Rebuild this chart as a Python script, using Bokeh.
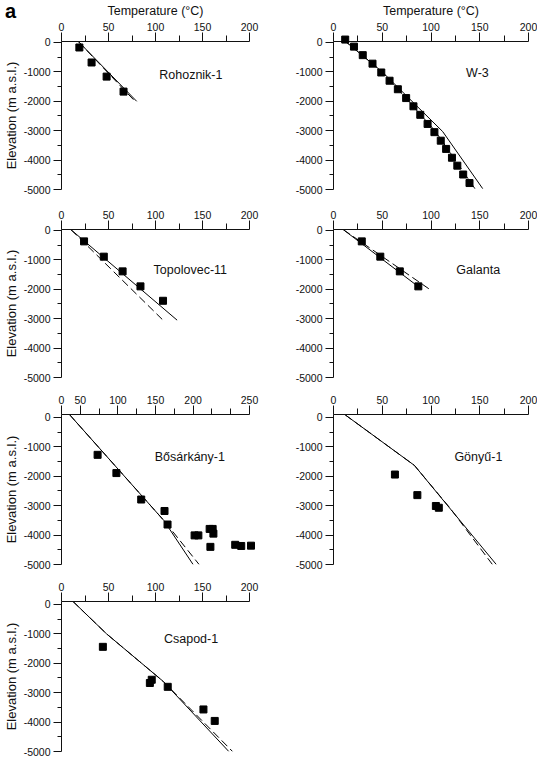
from bokeh.plotting import figure
from bokeh.models import Range1d, FixedTicker, Label, Div
from bokeh.layouts import column, row
from bokeh.embed import file_html
from bokeh.resources import INLINE

# ---------------- data ----------------
rohoz_T = [19, 32, 48, 66]
rohoz_E = [-170, -680, -1160, -1670]
rohoz_solid_T = [18, 80]
rohoz_solid_E = [30, -2000]
rohoz_dash_T = [18, 78.5]
rohoz_dash_E = [30, -2010]

w3_T = [12, 21, 30, 40, 49, 57.5, 66, 74.5, 82, 89, 96.5, 103.5, 110, 115.5, 121.5, 127, 133, 139.5]
w3_E = [100, -140, -430, -720, -1020, -1300, -1590, -1890, -2170, -2460, -2770, -3050, -3340, -3620,
        -3920, -4190, -4490, -4780]
w3_solid_T = [10, 50, 112, 153]
w3_solid_E = [100, -1000, -3030, -4970]
w3_dash_T = [10, 50, 104, 125, 145]
w3_dash_E = [100, -1000, -3000, -4000, -4970]

topo_T = [24, 45, 65, 84, 108]
topo_E = [-370, -890, -1390, -1900, -2390]
topo_solid_T = [10, 123]
topo_solid_E = [30, -3050]
topo_dash_T = [10, 108]
topo_dash_E = [30, -3050]

gal_T = [29, 48, 68, 87]
gal_E = [-370, -890, -1390, -1900]
gal_solid_T = [10, 89]
gal_solid_E = [30, -1960]
gal_dash_T = [10, 99]
gal_dash_E = [30, -2010]

bos_T = [48, 73, 106, 137, 141, 177, 182, 197, 201, 202, 198, 231, 239, 252]
bos_E = [-1270, -1890, -2790, -3180, -3640, -4010, -4010, -3790, -3790, -3950, -4400, -4330, -4370, -4360]
bos_solid_T = [10.6, 136, 175]
bos_solid_E = [100, -3500, -5000]
bos_dash_T = [10.6, 136, 183]
bos_dash_E = [100, -3500, -5000]

gon_T = [63, 86, 105, 108]
gon_E = [-1940, -2640, -3010, -3070]
gon_solid_T = [12, 83, 167]
gon_solid_E = [90, -1630, -5000]
gon_dash_T = [12, 83, 120, 163]
gon_dash_E = [90, -1630, -3100, -5000]

csa_T = [44, 94, 96, 113, 151, 163]
csa_E = [-1440, -2670, -2560, -2800, -3570, -3960]
csa_solid_T = [12, 48, 108, 178]
csa_solid_E = [110, -1000, -2610, -5000]
csa_dash_T = [12, 48, 108, 182]
csa_dash_E = [110, -1000, -2610, -5000]

x_ticks_200 = [0, 50, 100, 150, 200]
x_minor_200 = [25, 75, 125, 175]
# Bősárkány-1 top axis as printed: labels sit at uneven tick positions
bos_tick_pos = [0, 25, 75, 125, 175, 250]
bos_tick_lab = ["0", "50", "100", "150", "200", "250"]
bos_minor = [50, 100, 150, 200, 225]
y_ticks = [0, -1000, -2000, -3000, -4000, -5000]
y_minor = [-500, -1500, -2500, -3500, -4500]

FONT = "Liberation Sans"
TICK_SIZE = "10.5px"


def panel(width, height, mb_l, mb_r, mb_t, mb_b, xmax, ytop, xt, xm, name, lab_x, lab_y,
          pts, solid, dash, xtitle=False, ytitle=False, xlabels=None):
    p = figure(width=width, height=height, x_range=Range1d(0, xmax), y_range=Range1d(-5000, ytop),
               x_axis_location="above", output_backend="svg", toolbar_location=None,
               min_border_left=mb_l, min_border_right=mb_r, min_border_top=mb_t,
               min_border_bottom=mb_b)
    p.outline_line_color = None
    p.grid.visible = False
    p.background_fill_color = "white"
    p.border_fill_color = "white"

    xa = p.xaxis[0]
    xa.ticker = FixedTicker(ticks=xt, minor_ticks=xm)
    if xlabels is not None:
        xa.major_label_overrides = {t: s for t, s in zip(xt, xlabels)}
    xa.major_tick_out = 9
    xa.major_tick_in = 0
    xa.minor_tick_out = 6
    xa.minor_tick_in = 0
    xa.major_label_standoff = 2
    xa.major_label_text_font = FONT
    xa.major_label_text_font_size = TICK_SIZE
    xa.major_label_text_color = "#111111"
    xa.axis_line_color = "#111111"
    xa.major_tick_line_color = "#111111"
    xa.minor_tick_line_color = "#111111"
    if xtitle:
        xa.axis_label = "Temperature (°C)"
        xa.axis_label_text_font = FONT
        xa.axis_label_text_font_size = "12.5px"
        xa.axis_label_text_font_style = "normal"
        xa.axis_label_text_color = "#111111"
        xa.axis_label_standoff = 2

    ya = p.yaxis[0]
    ya.ticker = FixedTicker(ticks=y_ticks, minor_ticks=y_minor)
    ya.major_label_overrides = {t: str(t) for t in y_ticks}
    ya.major_tick_out = 8
    ya.major_tick_in = 0
    ya.minor_tick_out = 4
    ya.minor_tick_in = 0
    ya.major_label_standoff = 3
    ya.major_label_text_font = FONT
    ya.major_label_text_font_size = TICK_SIZE
    ya.major_label_text_color = "#111111"
    ya.axis_line_color = "#111111"
    ya.major_tick_line_color = "#111111"
    ya.minor_tick_line_color = "#111111"
    if ytitle:
        ya.axis_label = "Elevation (m a.s.l.)"
        ya.axis_label_text_font = FONT
        ya.axis_label_text_font_size = "13px"
        ya.axis_label_text_font_style = "normal"
        ya.axis_label_text_color = "#111111"
        ya.axis_label_standoff = 2

    p.line(solid[0], solid[1], line_color="black", line_width=1)
    p.line(dash[0], dash[1], line_color="black", line_width=1, line_dash="8 4")
    r = p.scatter(pts[0], pts[1], marker="square", size=7, color="black")
    r.level = "overlay"

    p.add_layout(Label(x=lab_x, y=lab_y, text=name, text_font=FONT, text_font_size="12.5px",
                       text_align="left", text_baseline="middle", text_color="#111111"))
    return p


LW, RW = 264, 273
L_ML, L_MR = 54, 15
R_ML, R_MR = 69, 9

p1 = panel(LW, 197, L_ML, L_MR, 41, 8, 200, 34, x_ticks_200, x_minor_200, "Rohoznik-1", 104, -1120,
           (rohoz_T, rohoz_E), (rohoz_solid_T, rohoz_solid_E), (rohoz_dash_T, rohoz_dash_E),
           xtitle=True, ytitle=True)
p2 = panel(RW, 197, R_ML, R_MR, 41, 8, 200, 34, x_ticks_200, x_minor_200, "W-3", 136, -1030,
           (w3_T, w3_E), (w3_solid_T, w3_solid_E), (w3_dash_T, w3_dash_E), xtitle=True)

p3 = panel(LW, 188, L_ML, L_MR, 32, 8, 200, 34, x_ticks_200, x_minor_200, "Topolovec-11", 98, -1360,
           (topo_T, topo_E), (topo_solid_T, topo_solid_E), (topo_dash_T, topo_dash_E), ytitle=True)
p4 = panel(RW, 188, R_ML, R_MR, 32, 8, 200, 34, x_ticks_200, x_minor_200, "Galanta", 126, -1360,
           (gal_T, gal_E), (gal_solid_T, gal_solid_E), (gal_dash_T, gal_dash_E))

p5 = panel(LW, 187, L_ML, L_MR, 29, 8, 250, 102, bos_tick_pos, bos_minor, "Bősárkány-1", 124, -1360,
           (bos_T, bos_E), (bos_solid_T, bos_solid_E), (bos_dash_T, bos_dash_E), ytitle=True,
           xlabels=bos_tick_lab)
p6 = panel(RW, 187, R_ML, R_MR, 29, 8, 200, 102, x_ticks_200, x_minor_200, "Gönyű-1", 124, -1360,
           (gon_T, gon_E), (gon_solid_T, gon_solid_E), (gon_dash_T, gon_dash_E))

p7 = panel(LW, 185, L_ML, L_MR, 29, 6, 200, 102, x_ticks_200, x_minor_200, "Csapod-1", 109, -1190,
           (csa_T, csa_E), (csa_solid_T, csa_solid_E), (csa_dash_T, csa_dash_E), ytitle=True)

panel_letter = Div(text="a", width=20, height=24,
                   styles={"position": "absolute", "left": "0px", "top": "-6px", "z-index": "10",
                           "font-family": "'Liberation Sans', Arial, sans-serif",
                           "font-size": "20px", "font-weight": "bold", "color": "black",
                           "line-height": "24px"})

layout = column(panel_letter, row(p1, p2), row(p3, p4), row(p5, p6), row(p7))

with open("out.html", "w") as f:
    f.write(file_html(layout, INLINE))
